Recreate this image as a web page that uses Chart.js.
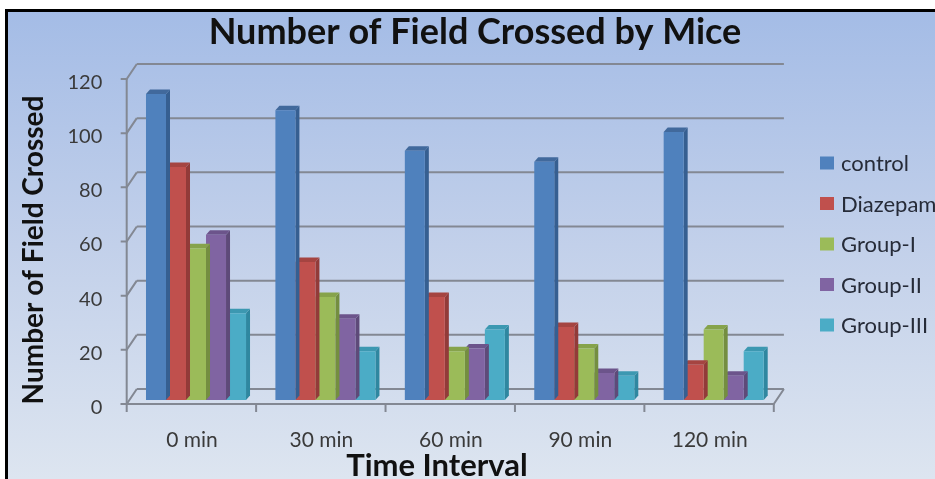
<!DOCTYPE html>
<html>
<head>
<meta charset="utf-8">
<script src="https://cdn.jsdelivr.net/npm/chart.js@4.4.1/dist/chart.umd.min.js"></script>
<style>
  html, body { margin: 0; padding: 0; background: #ffffff; }
  #wrap { width: 935px; height: 479px; position: relative; }
</style>
</head>
<body>
<div id="wrap"><canvas id="chart" width="935" height="479"></canvas></div>
<script>
// Categories, series and axis values
const timeLabels = ['0 min', '30 min', '60 min', '90 min', '120 min'];
const seriesNames = ['control', 'Diazepam', 'Group-I', 'Group-II', 'Group-III'];
const control   = [113, 107, 92, 88, 99];
const diazepam  = [86, 51, 38, 27, 13];
const groupI    = [56, 38, 18, 19, 26];
const groupII   = [61, 30, 19, 10, 9];
const groupIII  = [32, 18, 26, 9, 18];
const yTicks    = [0, 20, 40, 60, 80, 100, 120];

const chartTitle = 'Number of Field Crossed by Mice';
const xTitle = 'Time Interval';
const yTitle = 'Number of Field Crossed';

// Face colours: front, side, top
const palette = [
  { front: '#4f81bd', side: '#365f91', top: '#41699c' },
  { front: '#c0504d', side: '#923b39', top: '#a54441' },
  { front: '#9bbb59', side: '#748e40', top: '#86a34b' },
  { front: '#8064a2', side: '#5e4a79', top: '#6c548b' },
  { front: '#4bacc6', side: '#2f87a0', top: '#3c98b1' }
];

const seriesValues = [control, diazepam, groupI, groupII, groupIII];

// 3D geometry offsets relative to the bar plane
const BAR_DX = 4, BAR_DY = -4.5;     // bar depth
const FRONT_DX = -4.6, FRONT_DY = 4;  // front edge of floor / axis plane
const BACK_DX = 5.5, BACK_DY = -11;   // back wall plane
const GRID_COLOR = '#838893';

const wallsPlugin = {
  id: 'walls',
  beforeDraw(chart) {
    const ctx = chart.ctx;
    ctx.save();
    ctx.fillStyle = '#ffffff';
    ctx.fillRect(0, 0, chart.width, chart.height);
    const g = ctx.createLinearGradient(0, 11, 0, chart.height);
    g.addColorStop(0, '#a4bce6');
    g.addColorStop(0.5, '#c2d0ea');
    g.addColorStop(1, '#dde5f0');
    ctx.fillStyle = g;
    ctx.fillRect(7, 11, chart.width - 7, chart.height - 11);
    ctx.strokeStyle = '#000000';
    ctx.lineWidth = 3;
    ctx.beginPath();
    ctx.moveTo(6.5, chart.height + 2);
    ctx.lineTo(6.5, 10.5);
    ctx.lineTo(chart.width + 2, 10.5);
    ctx.stroke();
    ctx.restore();
  },
  beforeDatasetsDraw(chart) {
    const ctx = chart.ctx;
    const y = chart.scales.y;
    const L = chart.chartArea.left, R = chart.chartArea.right;
    ctx.save();
    ctx.strokeStyle = GRID_COLOR;
    ctx.lineWidth = 2;
    ctx.lineCap = 'butt';
    // back wall gridlines + left wall diagonals + tick stubs
    yTicks.forEach(v => {
      const py = y.getPixelForValue(v);
      ctx.beginPath();
      ctx.moveTo(L + BACK_DX, py + BACK_DY);
      ctx.lineTo(R + BACK_DX, py + BACK_DY);
      ctx.stroke();
      ctx.beginPath();
      ctx.moveTo(L + FRONT_DX - 6, py + FRONT_DY);
      ctx.lineTo(L + FRONT_DX, py + FRONT_DY);
      ctx.lineTo(L + BACK_DX, py + BACK_DY);
      ctx.stroke();
    });
    const y0 = y.getPixelForValue(0);
    const yTop = y.getPixelForValue(yTicks[yTicks.length - 1]);
    // front vertical axis
    ctx.beginPath();
    ctx.moveTo(L + FRONT_DX, yTop + FRONT_DY);
    ctx.lineTo(L + FRONT_DX, y0 + FRONT_DY);
    ctx.stroke();
    // floor front edge and right edge
    ctx.beginPath();
    ctx.moveTo(L + FRONT_DX - 6, y0 + FRONT_DY);
    ctx.lineTo(R + FRONT_DX, y0 + FRONT_DY);
    ctx.lineTo(R + BACK_DX, y0 + BACK_DY);
    ctx.stroke();
    // category ticks on the floor front edge
    const catW = (R - L) / timeLabels.length;
    for (let i = 0; i <= timeLabels.length; i++) {
      const px = L + FRONT_DX + i * catW;
      ctx.beginPath();
      ctx.moveTo(px, y0 + FRONT_DY);
      ctx.lineTo(px, y0 + FRONT_DY + 8);
      ctx.stroke();
    }
    ctx.restore();
  },
  beforeDatasetDraw(chart, args) {
    const ctx = chart.ctx;
    const meta = chart.getDatasetMeta(args.index);
    const col = palette[args.index];
    ctx.save();
    meta.data.forEach(bar => {
      const p = bar.getProps(['x', 'y', 'base', 'width'], true);
      const l = p.x - p.width / 2, r = p.x + p.width / 2;
      // side face
      ctx.fillStyle = col.side;
      ctx.beginPath();
      ctx.moveTo(r, p.y);
      ctx.lineTo(r + BAR_DX, p.y + BAR_DY);
      ctx.lineTo(r + BAR_DX, p.base + BAR_DY);
      ctx.lineTo(r, p.base);
      ctx.closePath();
      ctx.fill();
      // top face
      ctx.fillStyle = col.top;
      ctx.beginPath();
      ctx.moveTo(l, p.y);
      ctx.lineTo(l + BAR_DX, p.y + BAR_DY);
      ctx.lineTo(r + BAR_DX, p.y + BAR_DY);
      ctx.lineTo(r, p.y);
      ctx.closePath();
      ctx.fill();
    });
    ctx.restore();
  },
  afterDraw(chart) {
    const ctx = chart.ctx;
    ctx.save();
    ctx.fillStyle = '#111111';
    ctx.textAlign = 'center';
    ctx.textBaseline = 'alphabetic';
    ctx.font = 'bold 36px Lato';
    ctx.fillText(chartTitle, 475, 44);
    ctx.font = 'bold 31px Lato';
    ctx.fillText(xTitle, 437, 476);
    ctx.translate(43, 250);
    ctx.rotate(-Math.PI / 2);
    ctx.font = 'bold 28px Lato';
    ctx.fillText(yTitle, 0, 0);
    ctx.restore();

    // legend
    ctx.save();
    ctx.font = '22px Lato';
    ctx.textAlign = 'left';
    ctx.textBaseline = 'middle';
    seriesNames.forEach((name, i) => {
      const cy = 163 + i * 40.5;
      ctx.fillStyle = palette[i].front;
      ctx.fillRect(820, cy - 6.5, 14, 13);
      ctx.fillStyle = '#262b38';
      ctx.fillText(name, 841, cy + 1);
    });
    ctx.restore();
  }
};

const datasets = seriesNames.map((name, i) => ({
  label: name,
  data: seriesValues[i],
  backgroundColor: palette[i].front,
  borderWidth: 0,
  categoryPercentage: 0.773,
  barPercentage: 1.0
}));

new Chart(document.getElementById('chart'), {
  type: 'bar',
  data: { labels: timeLabels, datasets },
  options: {
    responsive: false,
    devicePixelRatio: 1,
    animation: false,
    events: [],
    layout: { padding: { left: 31.3, top: 75, right: 156.6, bottom: 0 } },
    plugins: {
      legend: { display: false },
      title: { display: false },
      tooltip: { enabled: false }
    },
    scales: {
      x: {
        grid: { display: false, drawTicks: false },
        border: { display: false },
        ticks: {
          color: '#3a3a3a',
          font: { family: 'Lato', size: 21 },
          padding: 28,
          labelOffset: -4
        },
        afterFit(scale) { scale.height = 79; }
      },
      y: {
        min: 0,
        max: 120,
        grid: { display: false, drawTicks: false },
        border: { display: false },
        ticks: {
          stepSize: 20,
          color: '#3a3a3a',
          font: { family: 'Lato', size: 20 },
          padding: 29,
          labelOffset: 7.5
        },
        afterFit(scale) { scale.width = 100; }
      }
    }
  },
  plugins: [wallsPlugin]
});
</script>
</body>
</html>
